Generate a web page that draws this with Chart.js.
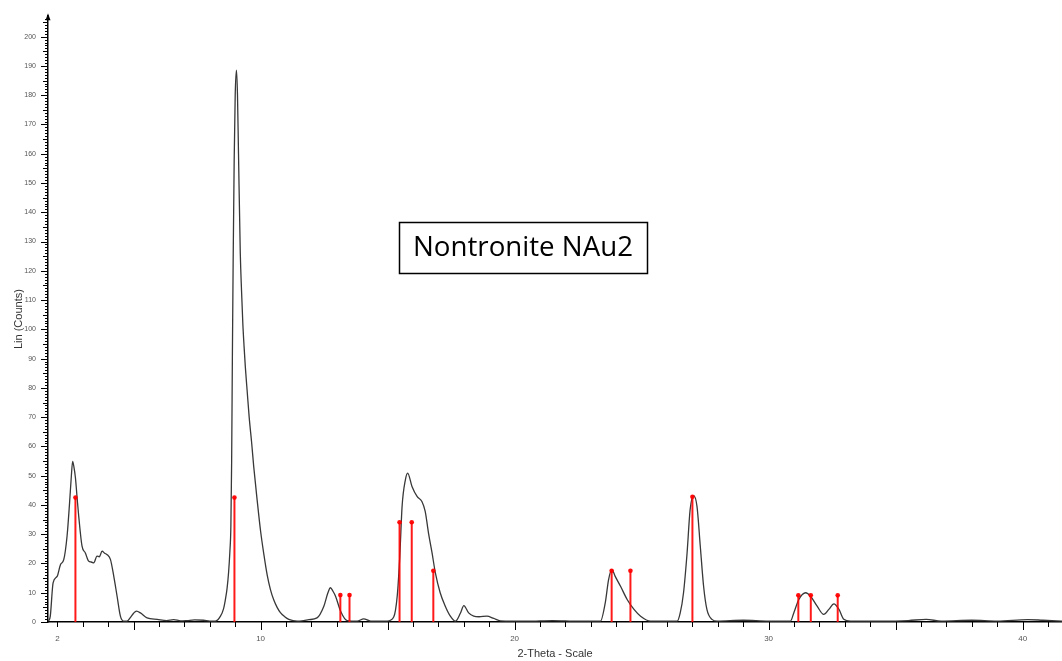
<!DOCTYPE html>
<html>
<head>
<meta charset="utf-8">
<script src="https://cdn.jsdelivr.net/npm/chart.js@4.4.1/dist/chart.umd.min.js"></script>
<style>
  html, body { margin: 0; padding: 0; background: #fff; }
</style>
</head>
<body>
<canvas id="xrd" width="1062" height="661"></canvas>
<script>
// Difratograma - Nontronita NAu2
const twoTheta = [1.65, 1.72, 1.83, 1.99, 2.12, 2.25, 2.38, 2.48, 2.55, 2.60, 2.65, 2.71, 2.78, 2.84, 2.97, 3.10, 3.23, 3.33, 3.43, 3.56,
  3.65, 3.76, 3.86, 3.96, 4.09, 4.22, 4.35, 4.48, 4.61, 4.74, 4.87, 5.00, 5.11, 5.27, 5.53, 5.93, 6.30, 6.58, 6.85, 7.10,
  7.40, 7.76, 8.00, 8.22, 8.42, 8.54, 8.61, 8.68, 8.74, 8.79, 8.83, 8.86, 8.89, 8.92, 8.96, 9.00, 9.05, 9.09, 9.13, 9.20,
  9.25, 9.30, 9.35, 9.40, 9.47, 9.55, 9.65, 9.73, 9.86, 10.00, 10.13, 10.26, 10.39, 10.52, 10.65, 10.78, 10.95, 11.11, 11.44, 11.70,
  11.90, 12.22, 12.49, 12.65, 12.75, 12.85, 12.95, 13.15, 13.41, 13.80, 14.06, 14.33, 14.98, 15.24, 15.38, 15.48, 15.57, 15.70, 15.79, 15.96,
  16.16, 16.35, 16.48, 16.61, 16.75, 16.88, 17.07, 17.27, 17.47, 17.67, 17.87, 18.00, 18.19, 18.39, 18.60, 18.91, 19.18, 19.44, 20.50, 21.50,
  22.50, 23.38, 23.57, 23.70, 23.83, 23.96, 24.17, 24.43, 24.70, 24.96, 25.35, 26.40, 26.52, 26.65, 26.79, 26.91, 27.05, 27.18, 27.31, 27.44,
  27.57, 27.77, 27.97, 29.00, 30.00, 30.86, 30.99, 31.19, 31.46, 31.65, 31.91, 32.17, 32.37, 32.57, 32.77, 32.96, 33.22, 34.50, 35.50, 36.20,
  36.80, 38.00, 39.00, 40.20, 40.80, 41.60];
const counts = [0.3, 2, 13.4, 15.6, 19.6, 21.3, 29.3, 40.8, 50, 54.9, 53, 49.3, 42, 36.1, 25.9, 23.6, 20.8, 20.5, 20.2, 22.5,
  22.3, 24.2, 23.5, 23.0, 21.3, 15.6, 8.8, 2.0, 0.3, 0.3, 1.5, 3.0, 3.7, 3.1, 1.4, 0.9, 0.5, 0.8, 0.4, 0.5,
  0.7, 0.6, 0.3, 0.3, 2.0, 4.5, 7.5, 11.5, 17, 24, 33, 55, 92, 124, 158, 180, 188.6, 180, 160, 126,
  113, 102, 94, 87, 79, 70, 61, 53, 42, 31, 23, 16, 11, 7.5, 5, 3.2, 1.8, 0.9, 0.3, 0.5,
  0.8, 1.4, 5.4, 10, 11.7, 10.5, 8.8, 3.7, 0.5, 0.3, 1.1, 0.3, 0.3, 1.7, 9, 22.5, 39.5, 48.6, 50.9, 46.3,
  42.9, 41.2, 37.8, 30.4, 23.6, 16.8, 10, 5.4, 2.0, 0.3, 3.1, 5.6, 3.1, 2.0, 1.8, 2.0, 1.2, 0.4, 0.3, 0.5,
  0.3, 0.3, 6.6, 14.5, 17.9, 15.6, 12.2, 7.7, 4.3, 2.0, 0.3, 0.3, 3.1, 10, 23.6, 38.4, 43.2, 39.5, 25.9, 12.2,
  4.3, 0.9, 0.3, 0.6, 0.3, 0.3, 3.1, 7.7, 10, 8.8, 5.4, 2.6, 4.3, 6.2, 4.3, 0.9, 0.3, 0.3, 0.5, 0.9,
  0.3, 0.6, 0.3, 0.8, 0.6, 0.3];

// linhas de referência (vermelho)
const stickPos = [2.71, 8.97, 13.14, 13.50, 15.47, 15.95, 16.80, 23.82, 24.56, 27.00, 31.17, 31.66, 32.72];
const stickHeight = [42.5, 42.5, 9.2, 9.2, 34.1, 34.1, 17.5, 17.5, 17.5, 42.8, 9.1, 9.1, 9.1];

const xLabels = [2, 10, 20, 30, 40];
const yLabels = [0, 10, 20, 30, 40, 50, 60, 70, 80, 90, 100, 110, 120, 130, 140, 150, 160, 170, 180, 190, 200];
const X_MIN = 1.63, X_MAX = 41.55, Y_MAX = 207;

const curve = twoTheta.map((x, i) => ({ x, y: counts[i] }));
const sticks = [];
stickPos.forEach((x, i) => {
    sticks.push({ x, y: 0 }, { x, y: stickHeight[i] }, { x, y: null });
});

const axisDecor = {
    id: 'axisDecor',
    afterDraw(chart) {
        const ctx = chart.ctx;
        const xs = chart.scales.x, ys = chart.scales.y, a = chart.chartArea;
        ctx.save();
        ctx.strokeStyle = '#000';
        ctx.lineWidth = 1;
        ctx.beginPath();
        for (let v = 0; v <= 206; v++) {
            const y = Math.round(ys.getPixelForValue(v)) + 0.5;
            const len = v % 10 === 0 ? 7 : (v % 5 === 0 ? 5 : 3);
            ctx.moveTo(a.left - len, y);
            ctx.lineTo(a.left, y);
        }
        for (let v = 2; v <= 41; v++) {
            const x = Math.round(xs.getPixelForValue(v)) + 0.5;
            const len = v % 5 === 0 ? 8 : 5;
            ctx.moveTo(x, a.bottom);
            ctx.lineTo(x, a.bottom + len);
        }
        ctx.stroke();
        // seta no topo do eixo Y
        ctx.fillStyle = '#000';
        ctx.beginPath();
        ctx.moveTo(a.left, a.top - 3);
        ctx.lineTo(a.left - 2.5, a.top + 4);
        ctx.lineTo(a.left + 2.5, a.top + 4);
        ctx.closePath();
        ctx.fill();

        // caixa de texto
        const cx = xs.getPixelForValue(20.33), cy = ys.getPixelForValue(128);
        const bw = 248, bh = 51;
        ctx.lineWidth = 1.5;
        ctx.strokeRect(Math.round(cx - bw / 2) + 0.5, Math.round(cy - bh / 2) + 0.5, bw, bh);
        let size = 31;
        ctx.font = size + 'px "Open Sans", "Liberation Sans", sans-serif';
        const w = ctx.measureText('Nontronite NAu2').width;
        if (w > 220) {
            size = size * 220 / w;
            ctx.font = size.toFixed(1) + 'px "Open Sans", "Liberation Sans", sans-serif';
        }
        ctx.textAlign = 'center';
        ctx.textBaseline = 'middle';
        ctx.fillStyle = '#000';
        ctx.fillText('Nontronite NAu2', cx, cy + 1);
        ctx.restore();
    }
};

new Chart(document.getElementById('xrd'), {
    type: 'line',
    data: {
        datasets: [
            {
                label: 'Referência',
                data: sticks,
                borderColor: 'rgba(255,0,0,0.9)',
                backgroundColor: 'rgba(255,0,0,0.95)',
                borderWidth: 2,
                spanGaps: false,
                pointRadius: c => (c.raw && c.raw.y > 0 ? 2.3 : 0),
                pointBorderWidth: 0,
                tension: 0
            },
            {
                label: 'NAu2',
                data: curve,
                borderColor: '#383838',
                borderWidth: 1.3,
                pointRadius: 0,
                cubicInterpolationMode: 'monotone',
                fill: false
            }
        ]
    },
    options: {
        responsive: false,
        animation: false,
        layout: { padding: { top: 15, left: 0, right: 0, bottom: 0 } },
        plugins: { legend: { display: false }, tooltip: { enabled: false } },
        scales: {
            x: {
                type: 'linear',
                min: X_MIN,
                max: X_MAX,
                afterBuildTicks: s => { s.ticks = xLabels.map(v => ({ value: v })); },
                afterFit: s => { s.height = 39; },
                ticks: {
                    autoSkip: false,
                    maxRotation: 0,
                    padding: 12,
                    color: '#555',
                    font: { family: '"Liberation Sans", Arial, sans-serif', size: 8 }
                },
                grid: { display: false, drawTicks: false },
                border: { display: true, color: '#000', width: 1.5 },
                title: {
                    display: true,
                    text: '2-Theta - Scale',
                    color: '#333',
                    padding: { top: 0, bottom: 0 },
                    font: { family: '"Liberation Sans", Arial, sans-serif', size: 11 }
                }
            },
            y: {
                type: 'linear',
                min: 0,
                max: Y_MAX,
                afterBuildTicks: s => { s.ticks = yLabels.map(v => ({ value: v })); },
                afterFit: s => { s.width = 48; },
                ticks: {
                    autoSkip: false,
                    padding: 12,
                    color: '#555',
                    font: { family: '"Liberation Sans", Arial, sans-serif', size: 7 }
                },
                grid: { display: false, drawTicks: false },
                border: { display: true, color: '#000', width: 1.5 },
                title: {
                    display: true,
                    text: 'Lin (Counts)',
                    color: '#333',
                    padding: { top: 12, bottom: 0 },
                    font: { family: '"Liberation Sans", Arial, sans-serif', size: 11 }
                }
            }
        }
    },
    plugins: [axisDecor]
});
</script>
</body>
</html>
